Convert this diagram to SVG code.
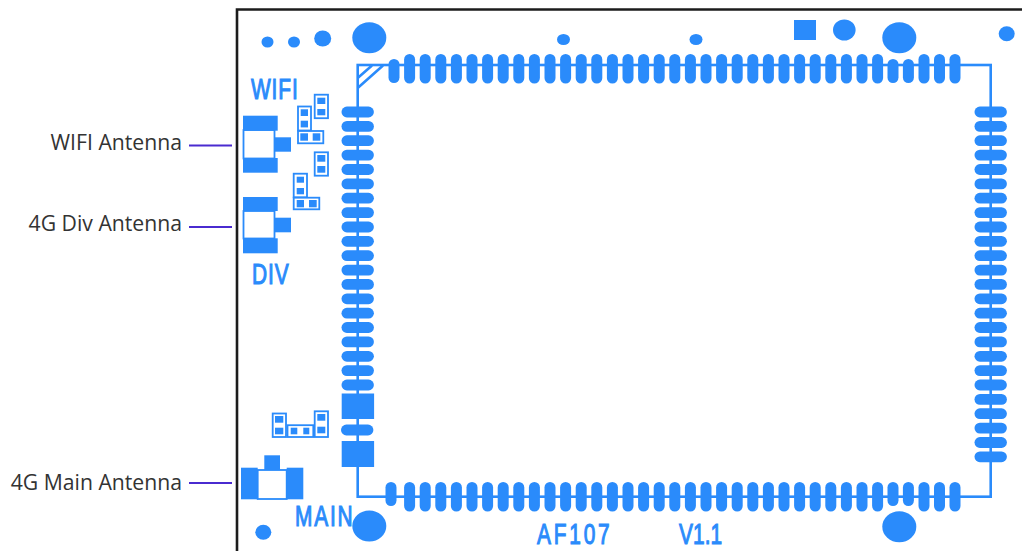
<svg xmlns="http://www.w3.org/2000/svg" xmlns:xlink="http://www.w3.org/1999/xlink" width="1022" height="551" viewBox="0 0 1022 551">
<style>
.b{fill:#2a8bfb}
.o{fill:#fff;stroke:#2a8bfb;stroke-width:1.8}
.w{fill:none;stroke:#2a8bfb;stroke-width:2.6}
.t{fill:#2a8bfb;font-family:"Liberation Sans",Arial,sans-serif;font-size:29px;stroke:#2a8bfb;stroke-width:1.1}
.l{fill:#333;font-family:"Open Sans",sans-serif;font-size:21.200px;text-anchor:end}
.c{stroke:#4a2bd0;stroke-width:2;fill:none}
</style>
<defs>
<rect id="h" x="-16.200" y="-5.400" width="32.400" height="10.800" rx="5.400"/>
<rect id="v" x="-5.500" y="0" width="11" height="29.500" rx="5.500"/>
<rect id="s" x="-5.500" y="0" width="11" height="24" rx="5.500"/>
</defs>
<rect width="1022" height="551" fill="#fff"/>
<path d="M237 553V9.500H1024" fill="none" stroke="#1c1c1c" stroke-width="2.600"/>
<g id="connectors">
<path class="c" d="M189 145.500H232M189 227H232M189 483H232"/>
</g>
<g id="board-outline">
<rect class="w" x="357.700" y="65" width="633" height="431.700"/>
<path class="w" d="M357.700 88L383 65.500M357.700 78L372 65.500"/>
</g>
<g id="holes" class="b">
<ellipse cx="267.500" cy="42" rx="6" ry="5.500"/>
<ellipse cx="294" cy="42" rx="6" ry="5.500"/>
<ellipse cx="322.700" cy="38.500" rx="8.500" ry="8"/>
<ellipse cx="369.300" cy="37.700" rx="17" ry="15.500"/>
<ellipse cx="563.500" cy="39.500" rx="6.500" ry="5.500"/>
<ellipse cx="696" cy="39.500" rx="6.500" ry="5.500"/>
<rect x="794" y="20" width="22" height="20"/>
<ellipse cx="844.300" cy="30" rx="11.300" ry="10.500"/>
<ellipse cx="899.300" cy="37.700" rx="17" ry="15.500"/>
<ellipse cx="1006.700" cy="33.700" rx="8" ry="7.500"/>
<ellipse cx="369.300" cy="526" rx="17" ry="15.500"/>
<ellipse cx="263.300" cy="532.300" rx="8" ry="7.500"/>
<ellipse cx="899.300" cy="526.700" rx="17" ry="15.500"/>
</g>
<g id="pads-left" class="b">
<use href="#h" x="357.700" y="112"/><use href="#h" x="357.700" y="126.400"/><use href="#h" x="357.700" y="140.700"/><use href="#h" x="357.700" y="155.100"/><use href="#h" x="357.700" y="169.500"/><use href="#h" x="357.700" y="183.900"/><use href="#h" x="357.700" y="198.200"/><use href="#h" x="357.700" y="212.600"/><use href="#h" x="357.700" y="227"/><use href="#h" x="357.700" y="241.300"/><use href="#h" x="357.700" y="255.700"/><use href="#h" x="357.700" y="270.100"/><use href="#h" x="357.700" y="284.400"/><use href="#h" x="357.700" y="298.800"/><use href="#h" x="357.700" y="313.200"/><use href="#h" x="357.700" y="327.500"/><use href="#h" x="357.700" y="341.900"/><use href="#h" x="357.700" y="356.300"/><use href="#h" x="357.700" y="370.600"/><use href="#h" x="357.700" y="385"/>
<rect x="341.700" y="393.500" width="32.400" height="25.500"/>
<use href="#h" x="357.200" y="430"/>
<rect x="341.700" y="441" width="32.400" height="26"/>
</g>
<g id="pads-right" class="b">
<use href="#h" x="990.700" y="112"/><use href="#h" x="990.700" y="126.400"/><use href="#h" x="990.700" y="140.700"/><use href="#h" x="990.700" y="155.100"/><use href="#h" x="990.700" y="169.500"/><use href="#h" x="990.700" y="183.900"/><use href="#h" x="990.700" y="198.200"/><use href="#h" x="990.700" y="212.600"/><use href="#h" x="990.700" y="227"/><use href="#h" x="990.700" y="241.300"/><use href="#h" x="990.700" y="255.700"/><use href="#h" x="990.700" y="270.100"/><use href="#h" x="990.700" y="284.400"/><use href="#h" x="990.700" y="298.800"/><use href="#h" x="990.700" y="313.200"/><use href="#h" x="990.700" y="327.500"/><use href="#h" x="990.700" y="341.900"/><use href="#h" x="990.700" y="356.300"/><use href="#h" x="990.700" y="370.600"/><use href="#h" x="990.700" y="385"/><use href="#h" x="990.700" y="399.400"/><use href="#h" x="990.700" y="413.700"/><use href="#h" x="990.700" y="428.100"/><use href="#h" x="990.700" y="442.500"/><use href="#h" x="990.700" y="456.800"/>
</g>
<g id="pads-top" class="b">
<use href="#s" x="394" y="59"/><use href="#v" x="409.600" y="54"/><use href="#v" x="425.200" y="54"/><use href="#v" x="440.800" y="54"/><use href="#v" x="456.400" y="54"/><use href="#v" x="472" y="54"/><use href="#v" x="487.600" y="54"/><use href="#v" x="503.200" y="54"/><use href="#v" x="518.800" y="54"/><use href="#v" x="534.400" y="54"/><use href="#v" x="550" y="54"/><use href="#v" x="565.600" y="54"/><use href="#v" x="581.200" y="54"/><use href="#v" x="596.800" y="54"/><use href="#v" x="612.400" y="54"/><use href="#v" x="628" y="54"/><use href="#v" x="643.600" y="54"/><use href="#v" x="659.200" y="54"/><use href="#v" x="674.800" y="54"/><use href="#v" x="690.400" y="54"/><use href="#v" x="706" y="54"/><use href="#v" x="721.600" y="54"/><use href="#v" x="737.200" y="54"/><use href="#v" x="752.800" y="54"/><use href="#v" x="768.400" y="54"/><use href="#v" x="784" y="54"/><use href="#v" x="799.600" y="54"/><use href="#v" x="815.200" y="54"/><use href="#v" x="830.800" y="54"/><use href="#v" x="846.400" y="54"/><use href="#v" x="862" y="54"/><use href="#v" x="877.600" y="54"/><use href="#s" x="893" y="59"/><use href="#s" x="908.400" y="59"/><use href="#v" x="924" y="54"/><use href="#v" x="939.500" y="54"/><use href="#v" x="955" y="54"/>
</g>
<g id="pads-bottom" class="b">
<use href="#s" x="391" y="482"/><use href="#v" x="409.600" y="482"/><use href="#v" x="425.200" y="482"/><use href="#v" x="440.800" y="482"/><use href="#v" x="456.400" y="482"/><use href="#v" x="472" y="482"/><use href="#v" x="487.600" y="482"/><use href="#v" x="503.200" y="482"/><use href="#v" x="518.800" y="482"/><use href="#v" x="534.400" y="482"/><use href="#v" x="550" y="482"/><use href="#v" x="565.600" y="482"/><use href="#v" x="581.200" y="482"/><use href="#v" x="596.800" y="482"/><use href="#v" x="612.400" y="482"/><use href="#v" x="628" y="482"/><use href="#v" x="643.600" y="482"/><use href="#v" x="659.200" y="482"/><use href="#v" x="674.800" y="482"/><use href="#v" x="690.400" y="482"/><use href="#v" x="706" y="482"/><use href="#v" x="721.600" y="482"/><use href="#v" x="737.200" y="482"/><use href="#v" x="752.800" y="482"/><use href="#v" x="768.400" y="482"/><use href="#v" x="784" y="482"/><use href="#v" x="799.600" y="482"/><use href="#v" x="815.200" y="482"/><use href="#v" x="830.800" y="482"/><use href="#v" x="846.400" y="482"/><use href="#v" x="862" y="482"/><use href="#v" x="877.600" y="482"/><use href="#s" x="893" y="482"/><use href="#s" x="908.400" y="482"/><use href="#v" x="924" y="482"/><use href="#v" x="939.500" y="482"/><use href="#v" x="955" y="482"/>
</g>
<g id="wifi-connector">
<rect class="o" x="243.500" y="130" width="31" height="28.500"/>
<rect class="b" x="243" y="115.700" width="34.700" height="15"/>
<rect class="b" x="243" y="158" width="34.700" height="14.700"/>
<rect class="b" x="274.500" y="137.300" width="16.500" height="14.400"/>
</g>
<g id="div-connector">
<rect class="o" x="243.500" y="211" width="31" height="27.500"/>
<rect class="b" x="243" y="197" width="34.700" height="14"/>
<rect class="b" x="243" y="238.300" width="34.700" height="15"/>
<rect class="b" x="274.500" y="217.700" width="16.500" height="14.600"/>
</g>
<g id="main-connector">
<rect class="o" x="257.700" y="470" width="29" height="29"/>
<rect class="b" x="241" y="467.700" width="16.700" height="31.600"/>
<rect class="b" x="286.700" y="467.700" width="16.600" height="31.600"/>
<rect class="b" x="264.300" y="455.300" width="15.700" height="14.700"/>
</g>
<g id="parts-wifi">
<rect class="o" x="298" y="106.500" width="13" height="24"/><rect class="b" x="300.700" y="109.300" width="7.300" height="6.700"/><rect class="b" x="300.700" y="120.700" width="7.300" height="6.700"/>
<rect class="o" x="314.700" y="94.700" width="13.300" height="23.500"/><rect class="b" x="317.300" y="97.700" width="8" height="6.300"/><rect class="b" x="317.300" y="109" width="8" height="6.300"/>
<rect class="o" x="298" y="131" width="25.300" height="12.300"/><rect class="b" x="300.300" y="133.300" width="7.700" height="7.400"/><rect class="b" x="312.700" y="133.300" width="7.600" height="7.400"/>
</g>
<g id="parts-div">
<rect class="o" x="314.700" y="152.300" width="13.300" height="23.400"/><rect class="b" x="317.300" y="155" width="8" height="6.700"/><rect class="b" x="317.300" y="166" width="8" height="6.700"/>
<rect class="o" x="293.700" y="173.700" width="13.300" height="23.600"/><rect class="b" x="296.700" y="176.700" width="7.300" height="6"/><rect class="b" x="296.700" y="188" width="7.300" height="6.300"/>
<rect class="o" x="293.700" y="197.700" width="25.600" height="11.600"/><rect class="b" x="296.700" y="200" width="7.300" height="7.300"/><rect class="b" x="309" y="200" width="7.700" height="7.300"/>
</g>
<g id="parts-main">
<rect class="o" x="272.700" y="413.500" width="13.300" height="23.500"/><rect class="b" x="275" y="416" width="8.300" height="6.700"/><rect class="b" x="275" y="427.700" width="8.300" height="6.600"/>
<rect class="o" x="287.500" y="425.200" width="25.800" height="11.800"/><rect class="b" x="290.700" y="427.700" width="6.600" height="6.600"/><rect class="b" x="303.300" y="427.700" width="6" height="6.600"/>
<rect class="o" x="314.700" y="411.300" width="13.300" height="25.700"/><rect class="b" x="317.300" y="414" width="8" height="6.700"/><rect class="b" x="317.300" y="426.700" width="8" height="6.600"/>
</g>
<g id="silk-text">
<text class="t" transform="translate(251 99) scale(.72 1)" textLength="65" lengthAdjust="spacing">WIFI</text>
<text class="t" transform="translate(252 284) scale(.72 1)" textLength="51" lengthAdjust="spacing">DIV</text>
<text class="t" transform="translate(295 526) scale(.72 1)" textLength="80" lengthAdjust="spacing">MAIN</text>
<text class="t" transform="translate(537 544) scale(.72 1)" textLength="101" lengthAdjust="spacing">AF107</text>
<text class="t" transform="translate(679 544) scale(.72 1)" textLength="60" lengthAdjust="spacing">V1.1</text>
</g>
<g id="labels">
<text class="l" x="182" y="150">WIFI Antenna</text>
<text class="l" x="182" y="231">4G Div Antenna</text>
<text class="l" x="182" y="490">4G Main Antenna</text>
</g>
</svg>
